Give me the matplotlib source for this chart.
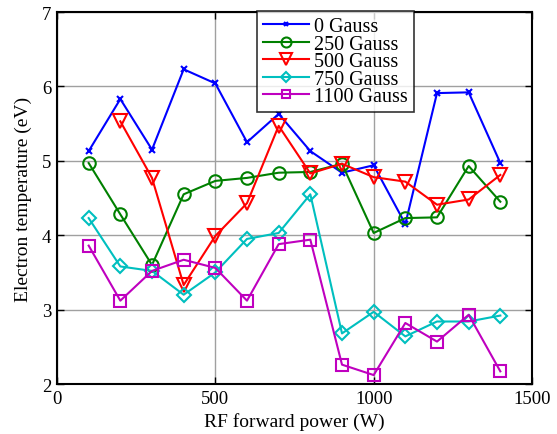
import matplotlib
matplotlib.use("Agg")
import matplotlib.pyplot as plt

plt.rcParams['font.family'] = ['Liberation Serif', 'DejaVu Serif']
plt.rcParams['mathtext.fontset'] = 'stix'

# RF forward power (W)
power = [100, 200, 300, 400, 500, 600, 700, 800, 900, 1000, 1100, 1200, 1300, 1400]
power_500 = power[1:]

# Electron temperature (eV) for each magnetic field
te_0 = [5.13, 5.83, 5.15, 6.23, 6.04, 5.25, 5.63, 5.13, 4.84, 4.94, 4.15, 5.91, 5.92, 4.97]
te_250 = [4.97, 4.28, 3.60, 4.55, 4.73, 4.77, 4.84, 4.85, 4.96, 4.03, 4.23, 4.24, 4.93, 4.45]
te_500 = [5.53, 4.77, 3.33, 3.99, 4.43, 5.47, 4.83, 4.96, 4.78, 4.72, 4.41, 4.48, 4.81]
te_750 = [4.23, 3.58, 3.52, 3.20, 3.50, 3.95, 4.03, 4.55, 2.68, 2.97, 2.64, 2.84, 2.84, 2.92]
te_1100 = [3.86, 3.12, 3.52, 3.67, 3.56, 3.12, 3.88, 3.94, 2.26, 2.12, 2.82, 2.57, 2.93, 2.17]

labels = ['0 Gauss', '250 Gauss', '500 Gauss', '750 Gauss', '1100 Gauss']
x_ticks = [0, 500, 1000, 1500]
y_ticks = [2, 3, 4, 5, 6, 7]

fig = plt.figure(figsize=(5.57, 4.35), dpi=100)
ax = fig.add_axes([57 / 557, 1 - 385 / 435, 475 / 557, 372 / 435])

lw = 1.5
ax.plot(power, te_0, color=(0, 0, 1), marker='x', ms=4, mew=1.5, lw=lw, label=labels[0])
ax.plot(power, te_250, color=(0, 0.5, 0), marker='o', ms=9, mew=1.5, mfc='none', lw=lw, label=labels[1])
ax.plot(power_500, te_500, color=(1, 0, 0), marker='v', ms=10, mew=1.5, mfc='none', lw=lw, label=labels[2])
ax.plot(power, te_750, color=(0, 0.75, 0.75), marker='D', ms=7, mew=1.5, mfc='none', lw=lw, label=labels[3])
ax.plot(power, te_1100, color=(0.75, 0, 0.75), marker='s', ms=8, mew=1.5, mfc='none', lw=lw, label=labels[4])

ax.set_xlim(0, 1500)
ax.set_ylim(2, 7)
ax.set_xticks(x_ticks)
ax.set_yticks(y_ticks)
ax.grid(True, color='#a0a0a0', lw=1.0, ls='-')
ax.set_axisbelow(True)
ax.tick_params(direction='in', length=5, width=1, labelsize=13.5, top=True, right=True, pad=4)
for sp in ax.spines.values():
    sp.set_linewidth(1.5)

ax.set_xlabel('RF forward power (W)', fontsize=14, labelpad=4)
ax.set_ylabel('Electron temperature (eV)', fontsize=14, labelpad=7)

leg = ax.legend(loc='upper left', bbox_to_anchor=(256.7 / 557, 1 - 12 / 435),
                bbox_transform=fig.transFigure, fontsize=14.5, frameon=True,
                fancybox=False, edgecolor='black', borderaxespad=0, borderpad=0.3,
                handlelength=2.3, handletextpad=0.25, labelspacing=-0.08, markerscale=0.8)
leg.get_frame().set_linewidth(1.2)

fig.savefig('out.png', dpi=100)
